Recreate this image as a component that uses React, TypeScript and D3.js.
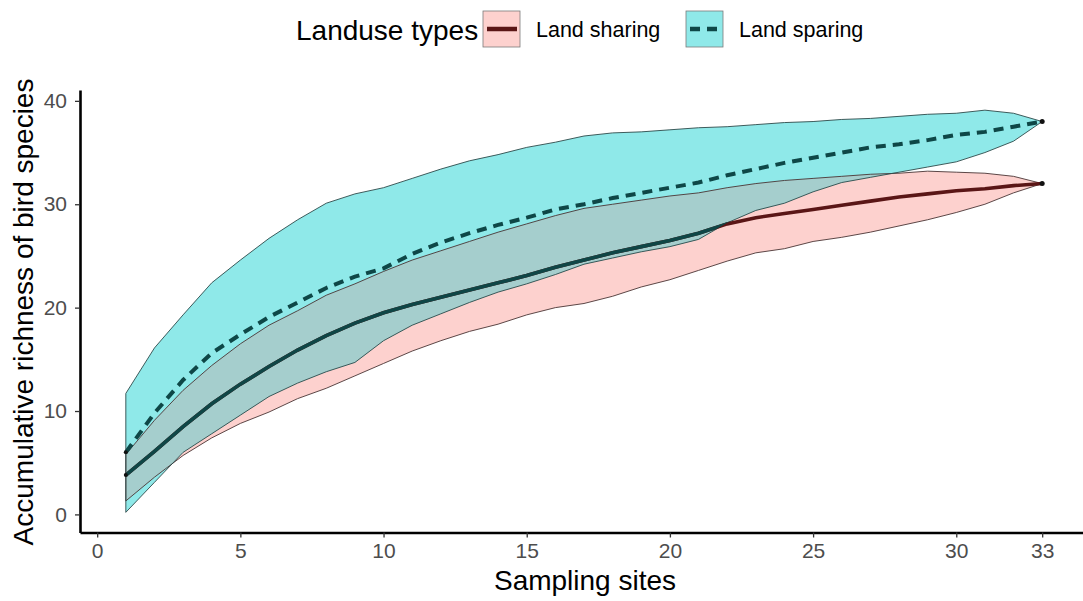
import React, { useEffect, useRef } from "react";
import * as d3 from "d3";

// sampling sites (x)
const sites = [1, 2, 3, 4, 5, 6, 7, 8, 9, 10, 11, 12, 13, 14, 15, 16, 17, 18, 19, 20, 21, 22, 23, 24, 25, 26, 27, 28, 29, 30, 31, 32, 33];

// Land sharing
const sharingMean = [3.8, 6.1, 8.5, 10.7, 12.6, 14.3, 15.9, 17.3, 18.5, 19.5, 20.3, 21.0, 21.7, 22.4, 23.1, 23.9, 24.6, 25.3, 25.9, 26.5, 27.2, 28.1, 28.7, 29.1, 29.5, 29.9, 30.3, 30.7, 31.0, 31.3, 31.5, 31.8, 32.0];
const sharingUpper = [5.8, 9.1, 12.0, 14.4, 16.5, 18.3, 19.7, 21.2, 22.3, 23.5, 24.6, 25.5, 26.4, 27.3, 28.1, 28.9, 29.6, 30.0, 30.4, 30.8, 31.1, 31.6, 32.0, 32.3, 32.5, 32.7, 32.9, 33.0, 33.2, 33.1, 33.0, 32.7, 32.0];
const sharingLower = [1.3, 3.6, 5.7, 7.4, 8.8, 9.9, 11.2, 12.2, 13.4, 14.6, 15.8, 16.8, 17.7, 18.4, 19.3, 20.0, 20.4, 21.1, 22.0, 22.7, 23.6, 24.5, 25.3, 25.7, 26.4, 26.8, 27.3, 27.9, 28.5, 29.2, 30.0, 31.1, 32.0];

// Land sparing
const sparingMean = [6.0, 9.8, 13.0, 15.6, 17.4, 19.1, 20.5, 21.9, 23.0, 23.8, 25.2, 26.3, 27.2, 28.0, 28.7, 29.5, 30.0, 30.6, 31.1, 31.6, 32.1, 32.8, 33.4, 34.0, 34.5, 35.0, 35.5, 35.8, 36.2, 36.7, 37.0, 37.5, 38.0];
const sparingUpper = [11.7, 16.1, 19.3, 22.4, 24.6, 26.7, 28.5, 30.1, 31.0, 31.6, 32.5, 33.4, 34.2, 34.8, 35.5, 36.0, 36.6, 36.9, 37.0, 37.2, 37.4, 37.5, 37.7, 37.9, 38.0, 38.2, 38.3, 38.5, 38.7, 38.8, 39.1, 38.8, 38.0];
const sparingLower = [0.2, 3.1, 6.0, 7.8, 9.6, 11.4, 12.7, 13.8, 14.7, 16.8, 18.3, 19.4, 20.5, 21.5, 22.3, 23.2, 24.2, 24.8, 25.4, 25.9, 26.6, 28.2, 29.4, 30.1, 31.2, 32.1, 32.6, 33.1, 33.6, 34.1, 35.0, 36.1, 38.0];

const xTicks = [0, 5, 10, 15, 20, 25, 30, 33];
const yTicks = [0, 10, 20, 30, 40];
const legendTitle = "Landuse types";
const legendLabels = ["Land sharing", "Land sparing"];

const FONT = "'Liberation Sans', Arial, sans-serif";

type Pt = { site: number; mean: number; lo: number; hi: number };

const App = () => {
  const ref = useRef<SVGSVGElement>(null);

  useEffect(() => {
    draw(ref.current as SVGSVGElement);
  }, []);

  return (
    <svg
      ref={ref}
      width={1083}
      height={601}
      style={{ position: "absolute", left: 0, top: 0, background: "#fff" }}
    />
  );
};

const draw = (node: SVGSVGElement) => {
  const svg = d3.select(node);
  svg.selectAll("*").remove();

  const x = d3.scaleLinear().domain([-0.6, 34.6]).range([80, 1088]);
  const y = d3.scaleLinear().domain([-1.75, 41.05]).range([532.5, 90]);

  const sharing: Pt[] = sites.map((s, i) => ({ site: s, mean: sharingMean[i], lo: sharingLower[i], hi: sharingUpper[i] }));
  const sparing: Pt[] = sites.map((s, i) => ({ site: s, mean: sparingMean[i], lo: sparingLower[i], hi: sparingUpper[i] }));

  const area = d3.area<Pt>()
    .x(d => x(d.site))
    .y0(d => y(d.lo))
    .y1(d => y(d.hi));
  const line = d3.line<Pt>()
    .x(d => x(d.site))
    .y(d => y(d.mean));

  svg.append("defs").append("clipPath").attr("id", "clipSparing")
    .append("path").attr("d", area(sparing) as string);

  // ribbons
  svg.append("path").attr("d", area(sharing) as string).attr("fill", "#FDD1CE");
  svg.append("path").attr("d", area(sparing) as string).attr("fill", "#8FE9E9");
  svg.append("path").attr("d", area(sharing) as string).attr("fill", "#A5CECD")
    .attr("clip-path", "url(#clipSparing)");

  // outlines
  svg.append("path").attr("d", area(sharing) as string).attr("fill", "none")
    .attr("stroke", "#4a3434").attr("stroke-width", 0.9);
  svg.append("path").attr("d", area(sparing) as string).attr("fill", "none")
    .attr("stroke", "#2c4a4a").attr("stroke-width", 0.9);

  // land sharing line (shows teal where covered by sparing ribbon)
  svg.append("path").attr("d", line(sharing) as string).attr("fill", "none")
    .attr("stroke", "#5A1616").attr("stroke-width", 3.6);
  svg.append("path").attr("d", line(sharing) as string).attr("fill", "none")
    .attr("stroke", "#0F4646").attr("stroke-width", 3.6)
    .attr("clip-path", "url(#clipSparing)");

  // land sparing line
  svg.append("path").attr("d", line(sparing) as string).attr("fill", "none")
    .attr("stroke", "#0E4747").attr("stroke-width", 4)
    .attr("stroke-dasharray", "10,7");

  // end points
  [sharing, sparing].forEach(s => {
    const first = s[0], last = s[s.length - 1];
    svg.append("circle").attr("cx", x(first.site)).attr("cy", y(first.mean)).attr("r", 2).attr("fill", "#111");
    svg.append("circle").attr("cx", x(last.site)).attr("cy", y(last.mean)).attr("r", 2.5).attr("fill", "#111");
  });

  // axes
  const xAxis = svg.append("g").attr("transform", "translate(0," + y.range()[0] + ")")
    .call(d3.axisBottom(x).tickValues(xTicks).tickSize(5).tickSizeOuter(0).tickPadding(6));
  const yAxis = svg.append("g").attr("transform", "translate(" + x.range()[0] + ",0)")
    .call(d3.axisLeft(y).tickValues(yTicks).tickSize(5).tickSizeOuter(0).tickPadding(8));

  [xAxis, yAxis].forEach(a => {
    a.select(".domain").attr("stroke", "#000").attr("stroke-width", 2.6);
    a.selectAll(".tick line").attr("stroke", "#333").attr("stroke-width", 1.3);
    a.selectAll(".tick text").attr("fill", "#4D4D4D")
      .style("font-family", FONT).style("font-size", "21px");
  });

  // axis titles
  svg.append("text").attr("x", 585).attr("y", 590).attr("text-anchor", "middle")
    .style("font-family", FONT).style("font-size", "28px").attr("fill", "#000")
    .text("Sampling sites");
  svg.append("text").attr("transform", "translate(33,312) rotate(-90)")
    .attr("text-anchor", "middle")
    .style("font-family", FONT).style("font-size", "28px").attr("fill", "#000")
    .text("Accumulative richness of bird species");

  // legend
  svg.append("text").attr("x", 296).attr("y", 40)
    .style("font-family", FONT).style("font-size", "28px").attr("fill", "#000")
    .text(legendTitle);

  const keys = [
    { x0: 483, fill: "#FDD1CE", stroke: "#5A1616", dash: null as string | null, label: legendLabels[0] },
    { x0: 686, fill: "#8FE9E9", stroke: "#0E4747", dash: "10,7", label: legendLabels[1] },
  ];
  keys.forEach(k => {
    svg.append("rect").attr("x", k.x0).attr("y", 11).attr("width", 37).attr("height", 36)
      .attr("fill", k.fill).attr("stroke", "#7a7a7a").attr("stroke-width", 0.8);
    const l = svg.append("line").attr("x1", k.x0 + 4).attr("x2", k.x0 + 34)
      .attr("y1", 29).attr("y2", 29)
      .attr("stroke", k.stroke).attr("stroke-width", 4.5);
    if (k.dash) l.attr("stroke-dasharray", k.dash);
    svg.append("text").attr("x", k.x0 + 53).attr("y", 37)
      .style("font-family", FONT).style("font-size", "21.5px").attr("fill", "#000")
      .text(k.label);
  });
};

export default App;
